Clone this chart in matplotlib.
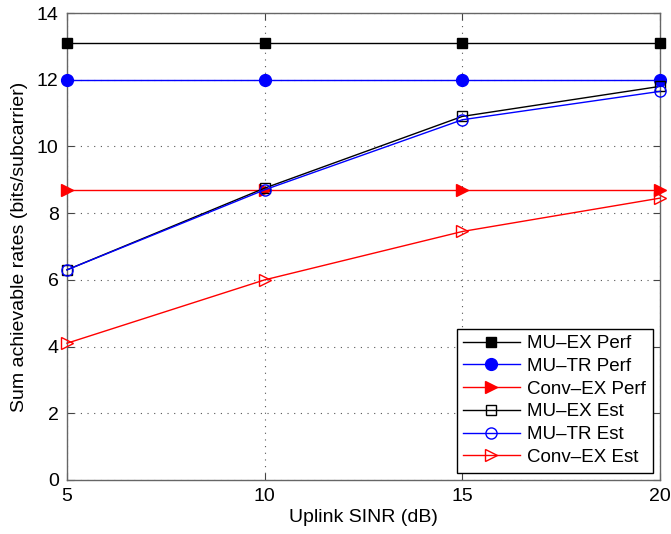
import matplotlib
matplotlib.use("Agg")
import matplotlib.pyplot as plt

plt.rcParams['font.family'] = ['Liberation Sans', 'DejaVu Sans']

snr = [5, 10, 15, 20]
mu_ex_perf = [13.1, 13.1, 13.1, 13.1]
mu_tr_perf = [12.0, 12.0, 12.0, 12.0]
conv_ex_perf = [8.7, 8.7, 8.7, 8.7]
mu_ex_est = [6.3, 8.75, 10.9, 11.8]
mu_tr_est = [6.3, 8.7, 10.8, 11.65]
conv_ex_est = [4.1, 6.0, 7.45, 8.45]

fig = plt.figure(figsize=(6.71, 5.34), dpi=100)
ax = fig.add_axes([67/671, 54/534, 593/671, 467/534])

ax.plot(snr, mu_ex_perf, color='black', lw=1, marker='s', ms=6.5, mfc='black', mec='black', label='MU\u2013EX Perf', clip_on=False, zorder=3)
ax.plot(snr, mu_tr_perf, color='blue', lw=1, marker='o', ms=8.5, mfc='blue', mec='blue', label='MU\u2013TR Perf', clip_on=False, zorder=3)
ax.plot(snr, conv_ex_perf, color='red', lw=1, marker='>', ms=8.5, mfc='red', mec='red', label='Conv\u2013EX Perf', clip_on=False, zorder=3)
ax.plot(snr, mu_ex_est, color='black', lw=1, marker='s', ms=6.5, mfc='none', mec='black', label='MU\u2013EX Est', clip_on=False, zorder=3)
ax.plot(snr, mu_tr_est, color='blue', lw=1, marker='o', ms=8, mfc='none', mec='blue', label='MU\u2013TR Est', clip_on=False, zorder=3)
ax.plot(snr, conv_ex_est, color='red', lw=1, marker='>', ms=8.5, mfc='none', mec='red', label='Conv\u2013EX Est', clip_on=False, zorder=3)

ax.set_xlim(5, 20)
ax.set_ylim(0, 14)
ax.set_xticks([5, 10, 15, 20])
ax.set_yticks(range(0, 15, 2))
ax.grid(True, linestyle=(0, (1, 5)), color='#555555', linewidth=0.8)
ax.tick_params(direction='in', top=True, right=True, labelsize=14, length=5, pad=6, color='#444444')
for s in ax.spines.values():
    s.set_color('#666666')
    s.set_linewidth(1)
ax.set_xlabel('Uplink SINR (dB)', fontsize=14, labelpad=3)
ax.set_ylabel('Sum achievable rates (bits/subcarrier)', fontsize=14, labelpad=6)

leg = ax.legend(loc='lower right', fontsize=13.5, fancybox=False, framealpha=1, edgecolor='black',
                handlelength=3, handletextpad=0.4, borderaxespad=0.4, labelspacing=0.3, borderpad=0.35)
leg.get_frame().set_linewidth(1)

fig.savefig('out.png', dpi=100)
